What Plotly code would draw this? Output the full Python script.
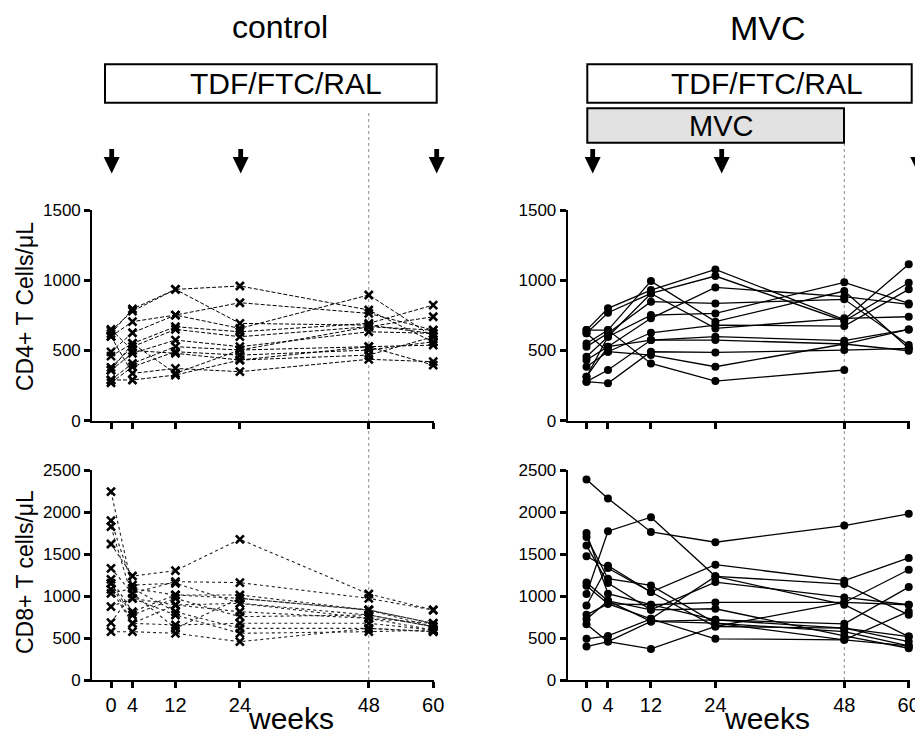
import plotly.graph_objects as go

weeks = [0, 4, 12, 24, 48, 60]

control_cd4 = [
    [640, 780, 935, 959, 788, 560],
    [620, 795, 935, 693, 680, 620],
    [600, 705, 752, 840, 764, 645],
    [490, 626, 752, 657, 895, 598],
    [460, 550, 669, 633, 693, 823],
    [380, 527, 650, 598, 669, 740],
    [360, 480, 574, 527, 633, 622],
    [290, 408, 527, 503, 527, 538],
    [270, 384, 491, 467, 503, 562],
    [650, 500, 480, 432, 467, 598],
    [600, 337, 372, 349, 437, 420],
    [290, 290, 325, 432, 527, 396],
    [360, 550, 337, 503, 669, 645],
]

mvc_cd4 = [
    [645, 800, 930, 1077, 720, 1113],
    [622, 769, 906, 1030, 710, 982],
    [550, 645, 994, 705, 923, 515],
    [527, 622, 847, 835, 864, 539],
    [456, 598, 752, 764, 985, 835],
    [432, 527, 729, 949, 883, 828],
    [384, 491, 626, 681, 674, 935],
    [313, 598, 906, 657, 729, 740],
    [278, 361, 574, 598, 570, 650],
    [622, 491, 467, 384, 546, 498],
    [645, 645, 408, 282, 361, None],
    [278, 266, 491, 486, 503, 515],
    [313, 527, 574, 574, 546, 650],
]

control_cd8 = [
    [2242, 1091, 1012, 972, 833, 675],
    [1897, 1131, 1151, 913, 774, 635],
    [1825, 972, 893, 813, 734, 595],
    [1619, 1238, 1302, 1675, 1024, 833],
    [1329, 1032, 1171, 1159, 972, 833],
    [1198, 813, 1012, 1012, 833, 675],
    [1151, 774, 972, 754, 774, 635],
    [1079, 675, 655, 675, 675, 595],
    [1032, 1091, 813, 615, 615, 575],
    [873, 972, 774, 556, 575, 595],
    [683, 1032, 615, 972, 833, 635],
    [575, 575, 556, 456, 615, 575],
    [1151, 675, 893, 913, 734, 675],
]

mvc_cd8 = [
    [1023, 1771, 1938, 1234, 1142, 776],
    [2388, 2161, 1763, 1640, 1839, 1978],
    [1473, 1333, 1047, 1373, 1182, 1453],
    [1751, 1027, 896, 716, 669, 1106],
    [1703, 1206, 1126, 677, 577, 406],
    [1600, 1154, 836, 848, 525, 378],
    [1162, 943, 836, 1166, 983, 896],
    [1122, 907, 896, 923, 923, 896],
    [887, 1361, 1047, 637, 617, 458],
    [776, 907, 728, 1234, 896, 517],
    [724, 943, 697, 677, 478, 816],
    [665, 458, 370, 637, 923, 1313],
    [490, 525, 728, 490, 478, 406],
    [398, 458, 697, 716, 617, 517],
]

cd4_ticks = [0, 500, 1000, 1500]
cd8_ticks = [0, 500, 1000, 1500, 2000, 2500]

# the page body has an 8px margin, so the figure is sized to fill the rest of the window
OFF = 8
W, H = 923 - OFF, 739 - OFF
FONT = "Liberation Sans, Arial, sans-serif"


def px(x):
    return (x - OFF) / W


def py(y):
    return 1 - (y - OFF) / H


fig = go.Figure()

x_marker = dict(symbol="x-thin", size=8, line=dict(width=2.6, color="black"), color="black")
o_marker = dict(symbol="circle", size=8, color="black")

for s in control_cd4:
    fig.add_trace(go.Scatter(x=weeks, y=s, mode="lines+markers", xaxis="x", yaxis="y",
                             line=dict(color="black", width=1, dash="4px,2px"),
                             marker=x_marker, cliponaxis=False, showlegend=False))
for s in mvc_cd4:
    fig.add_trace(go.Scatter(x=weeks, y=s, mode="lines+markers", xaxis="x2", yaxis="y2",
                             line=dict(color="black", width=1.3),
                             marker=o_marker, cliponaxis=False, showlegend=False))
for s in control_cd8:
    fig.add_trace(go.Scatter(x=weeks, y=s, mode="lines+markers", xaxis="x3", yaxis="y3",
                             line=dict(color="#222", width=1.1, dash="dot"),
                             marker=x_marker, cliponaxis=False, showlegend=False))
for s in mvc_cd8:
    fig.add_trace(go.Scatter(x=weeks, y=s, mode="lines+markers", xaxis="x4", yaxis="y4",
                             line=dict(color="black", width=1.3),
                             marker=o_marker, cliponaxis=False, showlegend=False))

axbase = dict(showline=True, linecolor="black", linewidth=2, ticks="outside", ticklen=6,
              tickwidth=2.5, tickcolor="black", showgrid=False, zeroline=False,
              automargin=False,
              tickfont=dict(size=17, color="black", family=FONT))

xl = [px(92.2), px(434.3)]
xr = [px(567.7), px(909.8)]
yt = [py(420.7), py(210)]
yb = [py(680), py(470)]
xrange = [-3.5, 60.2]

fig.update_layout(
    width=W, height=H, margin=dict(l=0, r=0, t=0, b=0, pad=0, autoexpand=False),
    paper_bgcolor="white", plot_bgcolor="white",
    font=dict(family=FONT, color="black"),
    xaxis=dict(axbase, domain=xl, range=xrange, tickvals=weeks, showticklabels=False, anchor="y"),
    yaxis=dict(axbase, domain=yt, range=[0, 1500], tickvals=cd4_ticks, anchor="x"),
    xaxis2=dict(axbase, domain=xr, range=xrange, tickvals=weeks, showticklabels=False, anchor="y2"),
    yaxis2=dict(axbase, domain=yt, range=[0, 1500], tickvals=cd4_ticks, anchor="x2"),
    xaxis3=dict(axbase, domain=xl, range=xrange, tickvals=weeks, anchor="y3",
                tickfont=dict(size=20, color="black", family=FONT)),
    yaxis3=dict(axbase, domain=yb, range=[0, 2500], tickvals=cd8_ticks, anchor="x3"),
    xaxis4=dict(axbase, domain=xr, range=xrange, tickvals=weeks, anchor="y4",
                tickfont=dict(size=20, color="black", family=FONT)),
    yaxis4=dict(axbase, domain=yb, range=[0, 2500], tickvals=cd8_ticks, anchor="x4"),
)

shapes = []
annotations = []

# reference lines at week 48
shapes.append(dict(type="line", xref="x", yref="paper", x0=48, x1=48, y0=py(680), y1=py(112),
                   line=dict(color="#888", width=1, dash="dot"), layer="below"))
shapes.append(dict(type="line", xref="x2", yref="paper", x0=48, x1=48, y0=py(680), y1=py(143),
                   line=dict(color="#888", width=1, dash="dot"), layer="below"))

# treatment boxes
shapes.append(dict(type="rect", xref="paper", yref="paper", x0=px(105), x1=px(436.7),
                   y0=py(102.7), y1=py(64.3), line=dict(color="black", width=2), fillcolor="white"))
shapes.append(dict(type="rect", xref="paper", yref="paper", x0=px(587.3), x1=px(911.7),
                   y0=py(102.7), y1=py(64.3), line=dict(color="black", width=2), fillcolor="white"))
shapes.append(dict(type="rect", xref="paper", yref="paper", x0=px(587.3), x1=px(844),
                   y0=py(142.7), y1=py(108.3), line=dict(color="black", width=2), fillcolor="#e2e2e2"))

# arrows
for ax in [111.7, 240.7, 436.7, 592.7, 721.7, 918.3]:
    shapes.append(dict(type="rect", xref="paper", yref="paper", x0=px(ax - 2.4), x1=px(ax + 2.4),
                       y0=py(158), y1=py(149), line=dict(width=0), fillcolor="black"))
    path = "M %f %f L %f %f L %f %f Z" % (px(ax - 8), py(157), px(ax + 8), py(157), px(ax), py(173.5))
    shapes.append(dict(type="path", xref="paper", yref="paper", path=path,
                       line=dict(width=0), fillcolor="black"))

fig.update_layout(shapes=shapes)


def txt(text, x, y, size, angle=0, yanchor="middle"):
    annotations.append(dict(text=text, x=px(x), y=py(y), xref="paper", yref="paper",
                            showarrow=False, xanchor="center", yanchor=yanchor, textangle=angle,
                            borderpad=0,
                            font=dict(size=size, color="black", family=FONT)))


txt("control", 280, 8.4, 32, yanchor="top")
txt("MVC", 767.5, 8.4, 34, yanchor="top")
txt("TDF/FTC/RAL", 285.8, 83, 30)
txt("TDF/FTC/RAL", 766.7, 83, 30)
txt("MVC", 720.8, 126, 29)
txt("CD4+ T Cells/μL", 25, 307, 23, -90)
txt("CD8+ T cells/μL", 25, 572, 23, -90)
txt("weeks", 291, 718, 30)
txt("weeks", 766.7, 718, 30)

fig.update_layout(annotations=annotations)

fig.write_html("out.html")
